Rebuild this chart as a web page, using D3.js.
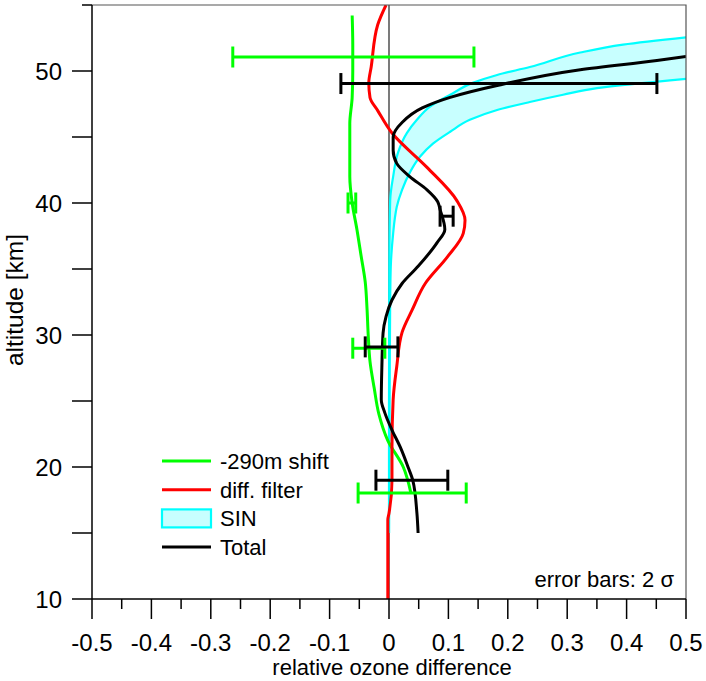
<!DOCTYPE html>
<html>
<head>
<meta charset="utf-8">
<script src="https://cdn.jsdelivr.net/npm/d3@7"></script>
<style>
  body { margin: 0; background: #fff; }
  svg { display: block; font-family: "Liberation Sans", Arial, sans-serif; }
</style>
</head>
<body>
<svg id="chart" width="706" height="681"></svg>
<script>
// altitude grid (km) and relative differences
const shiftAlt = [54.2, 52, 50, 48, 46, 44, 42, 40, 38, 36, 34, 32, 30, 28, 26, 24, 22, 20, 18];
const shiftVal = [-0.062, -0.061, -0.061, -0.062, -0.066, -0.066, -0.066, -0.062, -0.054, -0.047, -0.040, -0.037, -0.035, -0.032, -0.025, -0.017, -0.002, 0.024, 0.037];

const filterAlt = [55, 53.5, 50.3, 49.1, 48.0, 47.0, 45.3, 42.7, 40.2, 38.7, 37.7, 35.9, 33.9, 31.9, 30.2, 27.6, 25.1, 21.5, 19, 16.5, 16, 10];
const filterVal = [-0.005, -0.019, -0.030, -0.034, -0.032, -0.019, 0.005, 0.064, 0.114, 0.128, 0.125, 0.098, 0.061, 0.039, 0.022, 0.013, 0.007, 0.005, 0.005, 0.0, -0.002, -0.002];

const totalAlt = [51.1, 50.8, 50.1, 48.9, 48.0, 47.2, 46.1, 45.0, 44.0, 43.0, 42.0, 41.0, 40.1, 39.5, 38.0, 37.0, 35.2, 33.9, 32.65, 31.4, 30.15, 27.6, 25.1, 24.1, 22.8, 21.5, 20.0, 19.0, 16.5, 15.0];
const totalVal = [0.50, 0.451, 0.322, 0.182, 0.103, 0.056, 0.022, 0.007, 0.007, 0.013, 0.035, 0.064, 0.082, 0.086, 0.094, 0.081, 0.049, 0.022, 0.005, -0.005, -0.010, -0.012, -0.013, -0.007, 0.005, 0.019, 0.032, 0.040, 0.047, 0.049];

// SIN envelope: outer and inner edges
const sinOuterAlt = [15, 25, 35, 40.2, 42.0, 43.8, 45.3, 46.3, 47.3, 48.2, 49.1, 49.7, 50.3, 51.4, 52.0, 52.6];
const sinOuterVal = [0, 0, 0.0005, 0.002, 0.007, 0.015, 0.030, 0.047, 0.069, 0.103, 0.141, 0.182, 0.237, 0.322, 0.394, 0.51];
const sinInnerAlt = [15, 25, 32.65, 35.2, 37.7, 38.9, 39.7, 41.0, 42.3, 43.5, 44.5, 45.4, 46.3, 47.05, 47.65, 48.2, 48.7, 49.45];
const sinInnerVal = [0, 0.001, 0.002, 0.003, 0.007, 0.010, 0.013, 0.022, 0.035, 0.052, 0.074, 0.103, 0.136, 0.182, 0.237, 0.293, 0.350, 0.51];

// 2 sigma error bars
const shiftErrAlt = [51.06, 40.0, 29.0, 18.03];
const shiftErrLo = [-0.263, -0.069, -0.061, -0.052];
const shiftErrHi = [0.143, -0.056, -0.007, 0.130];
const totalErrAlt = [49.05, 39.0, 29.1, 19.0];
const totalErrLo = [-0.081, 0.086, -0.040, -0.022];
const totalErrHi = [0.451, 0.108, 0.015, 0.099];

const xTicks = [-0.5, -0.4, -0.3, -0.2, -0.1, 0, 0.1, 0.2, 0.3, 0.4, 0.5];
const yTicks = [10, 20, 30, 40, 50];

const legendLabels = ["-290m shift", "diff. filter", "SIN", "Total"];

const svg = d3.select("#chart");
const padL = 92, padR = 686, padT = 5, padB = 599;

const x = d3.scaleLinear().domain([-0.5, 0.5]).range([padL, padR]);
const y = d3.scaleLinear().domain([10, 55]).range([padB, padT]);

const pts = (alts, vals) => alts.map((a, i) => [vals[i], a]);

svg.append("clipPath").attr("id", "plot-clip")
  .append("rect")
  .attr("x", padL).attr("y", padT)
  .attr("width", padR - padL).attr("height", padB - padT);

const plot = svg.append("g").attr("clip-path", "url(#plot-clip)");

const curve = d3.line().x(d => x(d[0])).y(d => y(d[1])).curve(d3.curveMonotoneY);

// zero line
plot.append("line")
  .attr("x1", x(0)).attr("x2", x(0))
  .attr("y1", y(55)).attr("y2", y(10))
  .attr("stroke", "#222").attr("stroke-width", 1.2);

// SIN band
const outer = pts(sinOuterAlt, sinOuterVal);
const inner = pts(sinInnerAlt, sinInnerVal);
plot.append("path")
  .attr("d", curve(outer) + "L" + curve(inner.slice().reverse()).slice(1) + "Z")
  .attr("fill", "#c8ffff").attr("stroke", "none");
[outer, inner].forEach(edge => {
  plot.append("path")
    .attr("d", curve(edge))
    .attr("fill", "none").attr("stroke", "#00ffff").attr("stroke-width", 2.2);
});

const series = [
  { alt: shiftAlt, val: shiftVal, color: "#00ff00" },
  { alt: filterAlt, val: filterVal, color: "#ff0000" },
  { alt: totalAlt, val: totalVal, color: "#000000" }
];

series.forEach(s => {
  plot.append("path")
    .attr("d", curve(pts(s.alt, s.val)))
    .attr("fill", "none")
    .attr("stroke", s.color)
    .attr("stroke-width", 3)
    .attr("stroke-linejoin", "round");
});

// error bars
function errorBars(alts, lo, hi, color) {
  const g = plot.append("g").attr("stroke", color).attr("stroke-width", 3).attr("fill", "none");
  alts.forEach((a, i) => {
    const yy = y(a);
    g.append("line").attr("x1", x(lo[i])).attr("x2", x(hi[i])).attr("y1", yy).attr("y2", yy);
    [lo[i], hi[i]].forEach(v => {
      g.append("line").attr("x1", x(v)).attr("x2", x(v)).attr("y1", yy - 10.5).attr("y2", yy + 10.5);
    });
  });
}
errorBars(shiftErrAlt, shiftErrLo, shiftErrHi, "#00ff00");
errorBars(totalErrAlt, totalErrLo, totalErrHi, "#000000");

// frame
svg.append("path")
  .attr("d", `M${padL},${padT}H${padR}V${padB}`)
  .attr("fill", "none").attr("stroke", "#555").attr("stroke-width", 1.2);

// x axis, ticks pointing down
const xAxis = svg.append("g").attr("transform", `translate(0,${padB})`);
xAxis.append("line").attr("x1", padL).attr("x2", padR).attr("stroke", "#000").attr("stroke-width", 1.5);
d3.range(-0.5, 0.5001, 0.05).forEach((v, i) => {
  xAxis.append("line")
    .attr("x1", x(v)).attr("x2", x(v))
    .attr("y1", 0).attr("y2", i % 2 === 0 ? 20 : 10)
    .attr("stroke", "#000").attr("stroke-width", 1.5);
});
xAxis.selectAll("text.tick").data(xTicks).join("text")
  .attr("x", d => x(d)).attr("y", 52)
  .attr("text-anchor", "middle")
  .attr("font-size", 24)
  .text(d => String(d));

// y axis, ticks pointing left
const yAxis = svg.append("g").attr("transform", `translate(${padL},0)`);
yAxis.append("line").attr("y1", padT).attr("y2", padB).attr("stroke", "#000").attr("stroke-width", 1.5);
d3.range(10, 55.01, 5).forEach(v => {
  yAxis.append("line")
    .attr("x1", v === 55 ? -10 : -20).attr("x2", 0)
    .attr("y1", y(v)).attr("y2", y(v))
    .attr("stroke", "#000").attr("stroke-width", 1.5);
});
yAxis.selectAll("text.tick").data(yTicks).join("text")
  .attr("x", -30).attr("y", d => y(d))
  .attr("dy", "0.36em")
  .attr("text-anchor", "end")
  .attr("font-size", 24)
  .text(d => d);

// axis titles
svg.append("text")
  .attr("x", 392).attr("y", 675)
  .attr("text-anchor", "middle").attr("font-size", 22)
  .text("relative ozone difference");
svg.append("text")
  .attr("transform", "translate(23,300) rotate(-90)")
  .attr("text-anchor", "middle").attr("font-size", 24.5)
  .text("altitude [km]");

svg.append("text")
  .attr("x", 674).attr("y", 587)
  .attr("text-anchor", "end").attr("font-size", 22)
  .text("error bars: 2 σ");

// legend
const legendColors = ["#00ff00", "#ff0000", "#00ffff", "#000000"];
const legend = svg.append("g");
legendLabels.forEach((label, i) => {
  const ly = 461 + i * 28.7;
  if (label === "SIN") {
    legend.append("rect")
      .attr("x", 162).attr("y", ly - 9).attr("width", 49).attr("height", 18)
      .attr("fill", "#c8ffff").attr("stroke", "#00ffff").attr("stroke-width", 2.2);
  } else {
    legend.append("line")
      .attr("x1", 162).attr("x2", 211).attr("y1", ly).attr("y2", ly)
      .attr("stroke", legendColors[i]).attr("stroke-width", 3);
  }
  legend.append("text")
    .attr("x", 220).attr("y", ly).attr("dy", "0.36em")
    .attr("font-size", 22)
    .text(label);
});
</script>
</body>
</html>
